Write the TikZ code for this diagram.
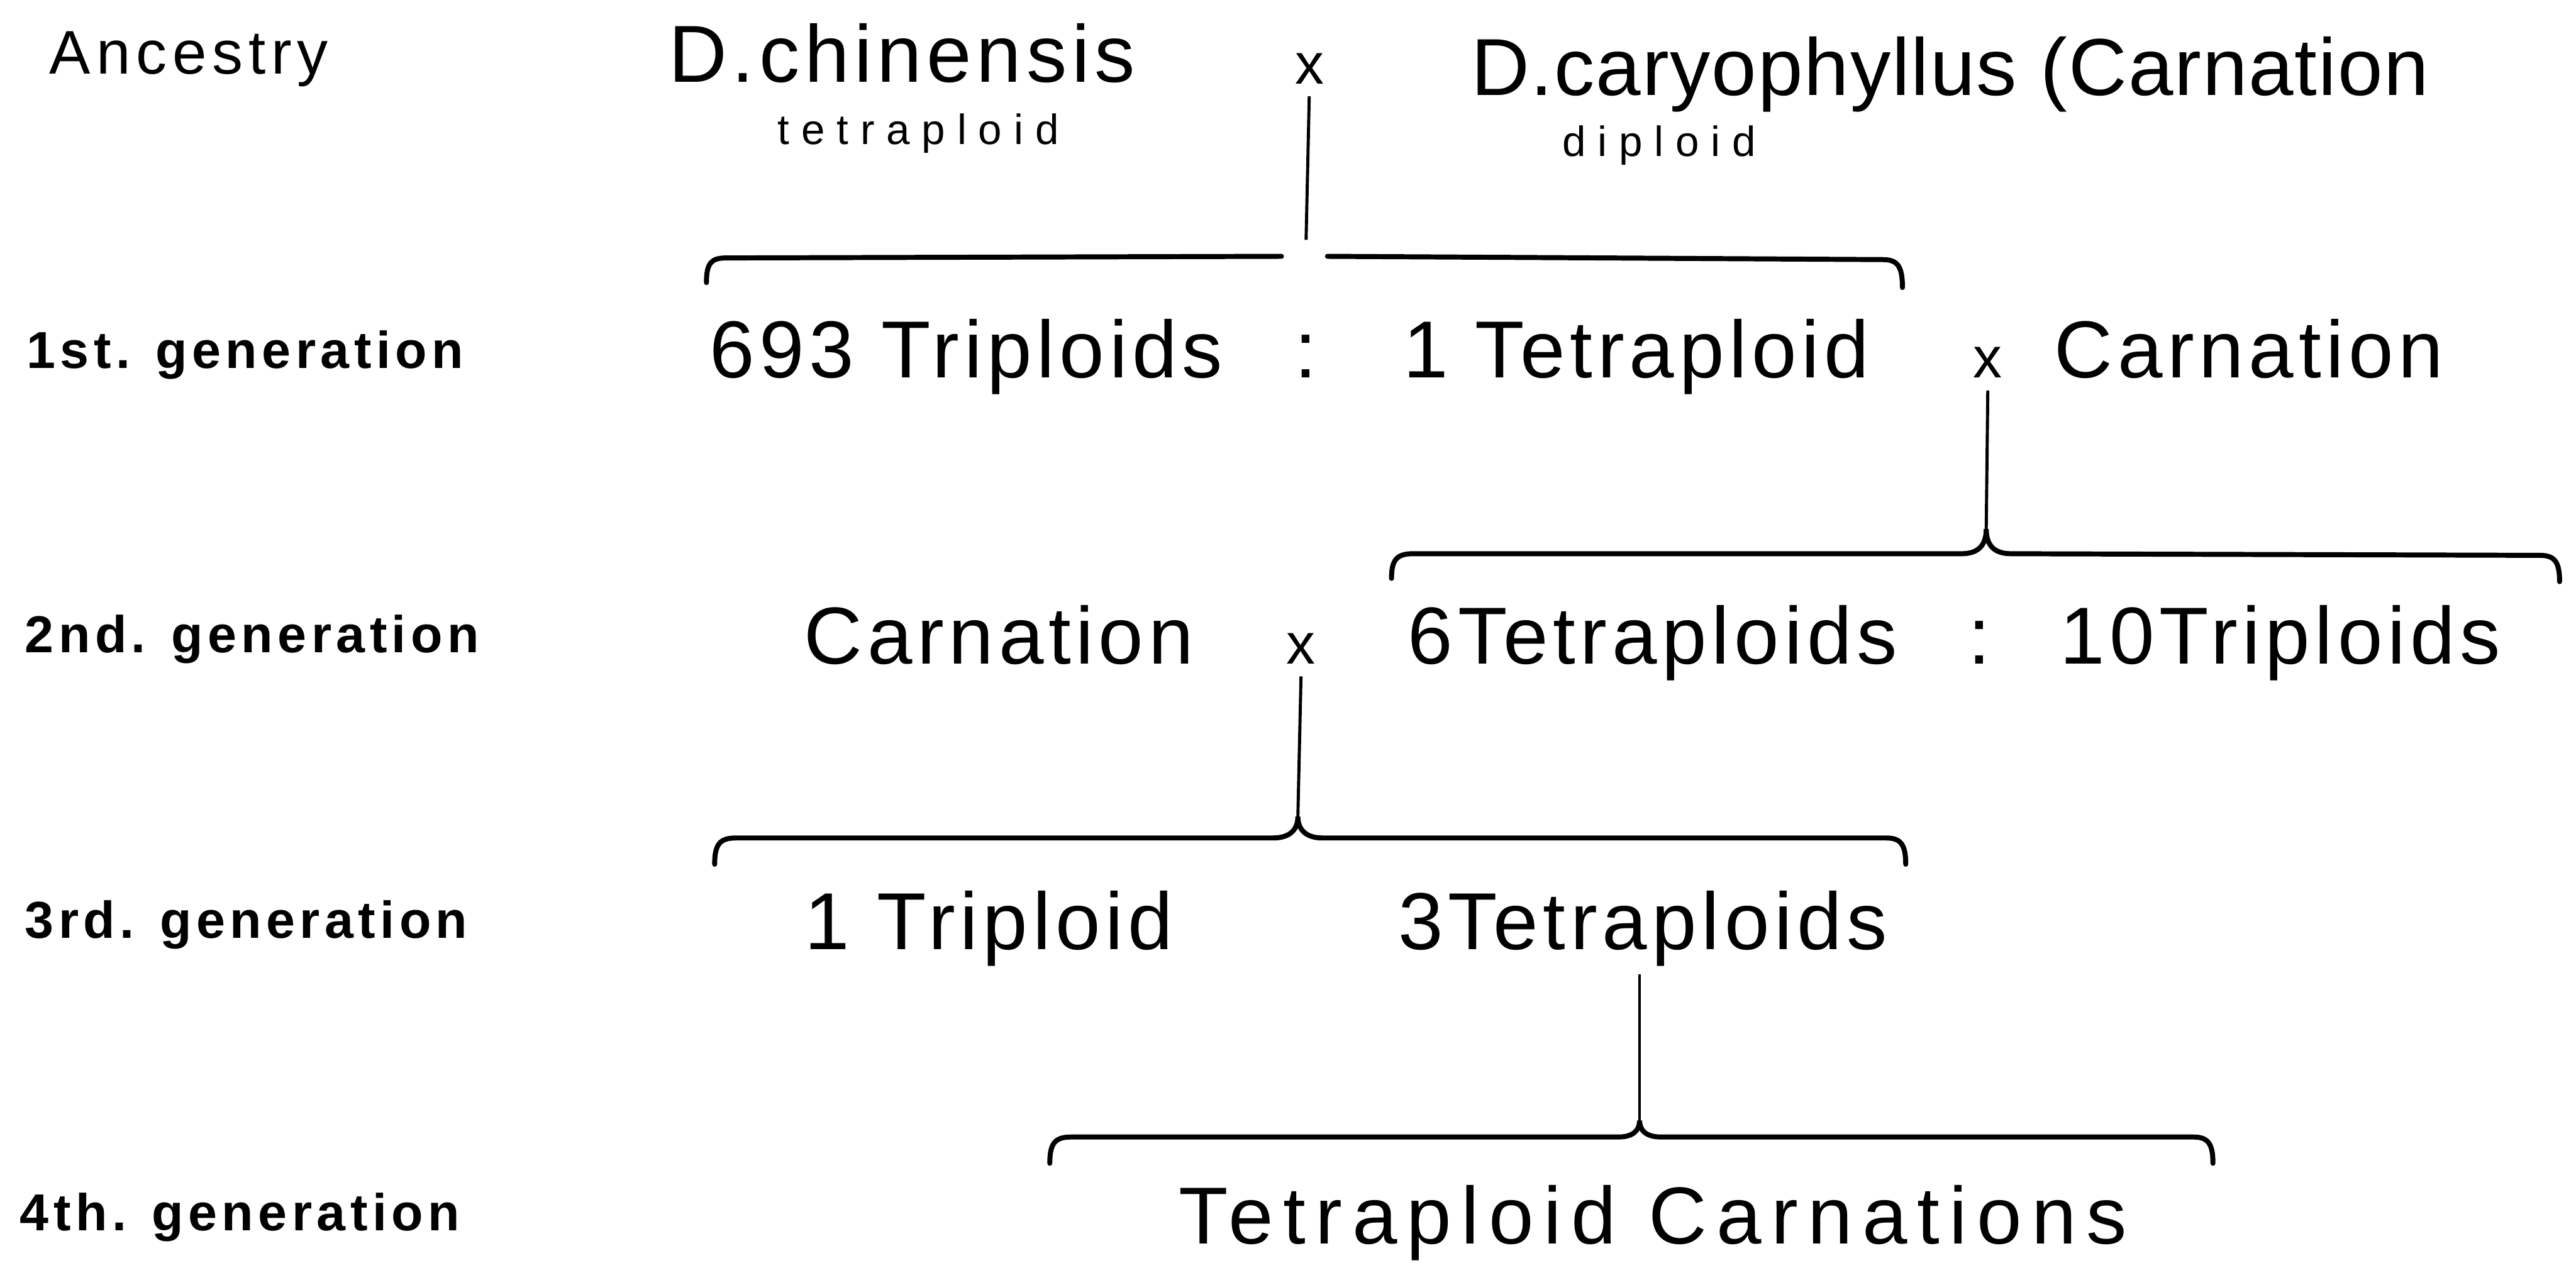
\documentclass[tikz,border=0pt]{standalone}
\usepackage{fontspec}
\setmainfont{Liberation Sans}
\newfontfamily\lettering[LetterSpace=6]{Liberation Sans}
\newfontfamily\plainlettering[LetterSpace=1.5]{Liberation Sans}
\newfontfamily\widelettering[LetterSpace=12]{Liberation Sans}
\newfontfamily\smalllettering[LetterSpace=28]{Liberation Sans}
\newfontfamily\genlettering[LetterSpace=9]{Liberation Sans}
\usepackage{tikz}
\usetikzlibrary{calc}

\begin{document}
\begin{tikzpicture}[x=0.3mm, y=-0.3mm,
    txt/.style={font=\lettering\fontsize{42}{46}\selectfont, anchor=base, inner sep=1pt},
    sub/.style={font=\smalllettering\fontsize{22}{24}\selectfont, anchor=base, inner sep=1pt},
    gen/.style={font=\genlettering\bfseries\fontsize{27}{30}\selectfont, anchor=base west, inner sep=0pt},
    cross/.style={font=\fontsize{30}{32}\selectfont, anchor=base},
    stem/.style={line width=1.6pt, shorten <=3pt},
    brace/.style={line width=2.6pt, line cap=round}
]
    \fill[white] (0,0) rectangle (1568,763);

    % Left column
    \node (anc)  [gen, font=\genlettering\fontsize{32}{34}\selectfont] at (30,45) {Ancestry};
    \node (gen1) [gen] at (16,224) {1st. generation};
    \node (gen2) [gen] at (15,397) {2nd. generation};
    \node (gen3) [gen] at (15,571) {3rd. generation};
    \node (gen4) [gen] at (12,749) {4th. generation};

    % Ancestry
    \node (chin)   [txt] at (549,50) {D.chinensis};
    \node (chinp)  [sub] at (559,88) {tetraploid};
    \node (cross0) [cross] at (797,51) {x};
    \node (caryo)  [txt, font=\plainlettering\fontsize{42}{46}\selectfont] at (1187,58) {D.caryophyllus (Carnation};
    \node (caryop) [sub] at (1010,95) {diploid};

    % 1st generation
    \node (trip1)  [txt] at (588,230) {693 Triploids};
    \node (col1)   [txt] at (795,230) {:};
    \node (tet1)   [txt] at (996,230) {1 Tetraploid};
    \node (cross1) [cross] at (1210,230) {x};
    \node (carn1)  [txt] at (1369,230) {Carnation};

    % 2nd generation
    \node (carn2)  [txt] at (608,404) {Carnation};
    \node (cross2) [cross] at (792,404) {x};
    \node (tet2)   [txt] at (1006,404) {6Tetraploids};
    \node (col2)   [txt] at (1205,404) {:};
    \node (trip2)  [txt] at (1388,404) {10Triploids};

    % 3rd generation
    \node (trip3)  [txt] at (602,578) {1 Triploid};
    \node (tet3)   [txt] at (1000,578) {3Tetraploids};

    % 4th generation
    \node (tet4)   [txt, font=\widelettering\fontsize{42}{46}\selectfont] at (1006,757) {Tetraploid Carnations};

    % brace tips
    \coordinate (b1tip) at (795,146);
    \coordinate (b2tip) at (1209,322);
    \coordinate (b3tip) at (790,497);
    \coordinate (b4tip) at (998,682);

    % stems
    \draw [stem] (cross0.south) -- (b1tip);
    \draw [stem] (cross1.south) -- (b2tip);
    \draw [stem] (cross2.south) -- (b3tip);
    \draw [stem] (tet3.south -| b4tip) -- (b4tip);

    % braces
    \draw [brace] (430,172) .. controls (430,160) and (433,157) .. (442,157) -- (780,156);
    \draw [brace] (808,156) -- (1146,158) .. controls (1155,158) and (1158,162) .. (1158,175);

    \draw [brace] (847,352) .. controls (847,341) and (850,337) .. (860,337) -- (1194,337)
        .. controls (1204,337) and (1209,332) .. (b2tip)
        .. controls (1209,332) and (1214,337) .. (1224,337) -- (1546,338)
        .. controls (1555,338) and (1558,342) .. (1558,354);

    \draw [brace] (435,526) .. controls (435,514) and (438,510) .. (448,510) -- (775,510)
        .. controls (785,510) and (790,505) .. (b3tip)
        .. controls (790,505) and (795,510) .. (805,510) -- (1148,510)
        .. controls (1157,510) and (1160,514) .. (1160,526);

    \draw [brace] (639,708) .. controls (639,696) and (642,692) .. (652,692) -- (985,692)
        .. controls (994,692) and (998,688) .. (b4tip)
        .. controls (998,688) and (1002,692) .. (1011,692) -- (1335,692)
        .. controls (1344,692) and (1347,696) .. (1347,708);
\end{tikzpicture}
\end{document}
